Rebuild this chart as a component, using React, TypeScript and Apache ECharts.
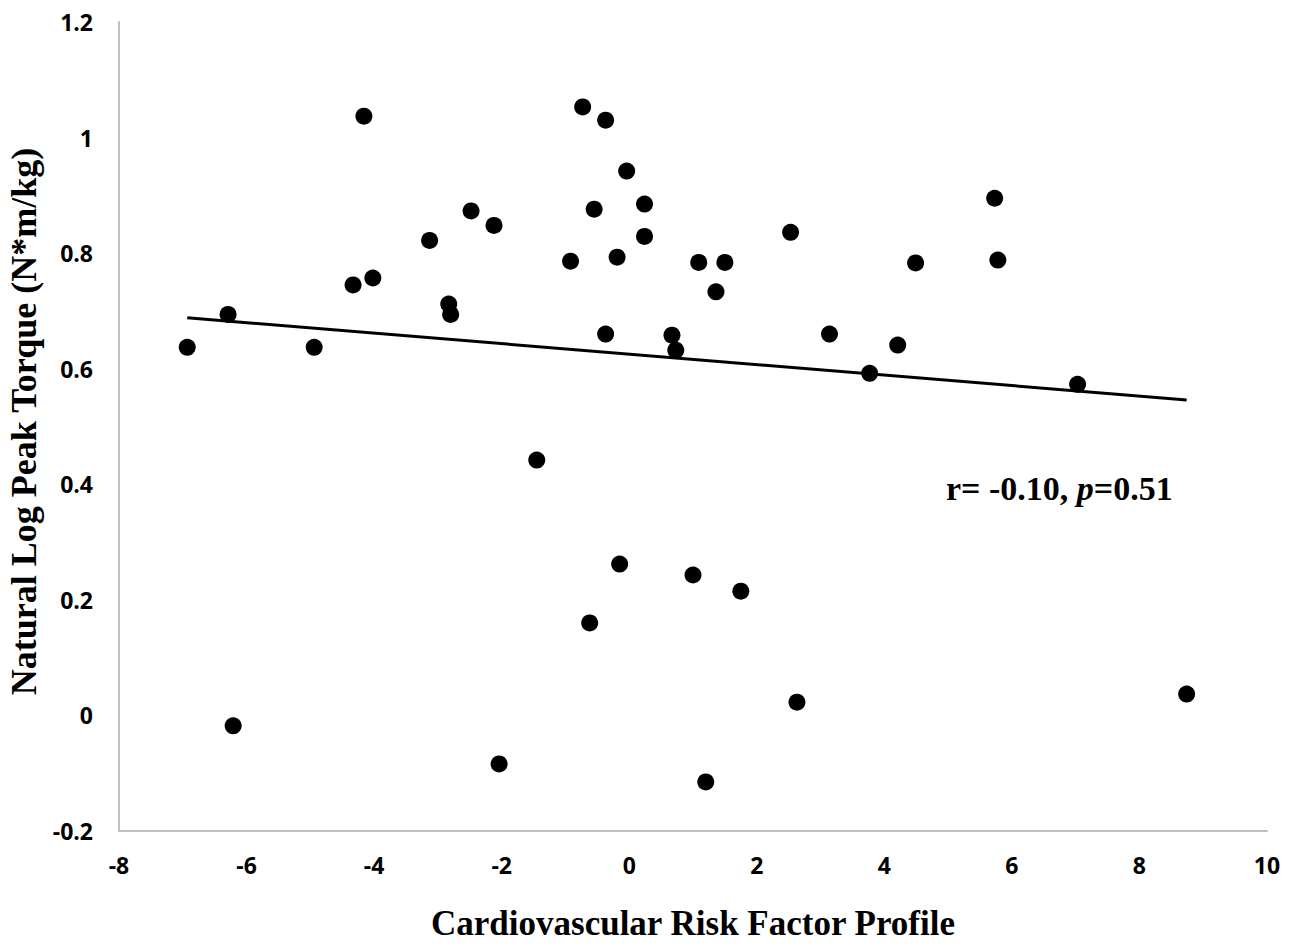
import React, { useEffect, useRef } from "react";
import * as echarts from "echarts";

const riskX = [-6.93, -6.29, -6.21, -4.94, -4.33, -4.02, -4.16, -3.13, -2.83, -2.8, -2.48, -2.12, -2.04, -1.45, -0.92, -0.73, -0.62, -0.55, -0.37, -0.37, -0.19, -0.15, -0.04, 0.24, 0.24, 0.67, 0.73, 1.0, 1.09, 1.2, 1.36, 1.5, 1.75, 2.53, 2.63, 3.14, 3.77, 4.21, 4.49, 5.73, 5.78, 7.03, 8.74];
const torqueY = [0.637, 0.694, -0.018, 0.637, 0.745, 0.757, 1.037, 0.822, 0.712, 0.694, 0.873, 0.848, -0.084, 0.442, 0.786, 1.053, 0.16, 0.876, 1.03, 0.66, 0.793, 0.262, 0.942, 0.885, 0.829, 0.658, 0.632, 0.243, 0.784, -0.115, 0.733, 0.784, 0.215, 0.836, 0.023, 0.66, 0.592, 0.641, 0.783, 0.895, 0.788, 0.573, 0.037];
const trendX = [-6.93, 8.74];
const trendY = [0.688, 0.546];
const xTicks = [-8, -6, -4, -2, 0, 2, 4, 6, 8, 10];
const yTicks = [-0.2, 0, 0.2, 0.4, 0.6, 0.8, 1, 1.2];

export default function App() {
  const ref = useRef<HTMLDivElement>(null);
  useEffect(() => {
    const chart = echarts.init(ref.current!, null, { renderer: "svg" });
    const tickFont = { fontFamily: "Open Sans", fontWeight: "bold" as const, fontSize: 23, color: "#000" };
    const nameFont = { fontFamily: "Liberation Serif", fontWeight: "bold" as const, fontSize: 35, color: "#000" };
    chart.setOption({
      animation: false,
      backgroundColor: "#fff",
      grid: { left: 119, right: 34, top: 22, bottom: 114, outerBoundsMode: "none", containLabel: false },
      xAxis: {
        type: "value",
        min: xTicks[0],
        max: xTicks[xTicks.length - 1],
        interval: 2,
        axisLine: { show: true, onZero: false, lineStyle: { color: "#bfbfbf", width: 2 } },
        axisTick: { show: false },
        splitLine: { show: false },
        axisLabel: { ...tickFont, margin: 22 },
        name: "Cardiovascular Risk Factor Profile",
        nameLocation: "middle",
        nameGap: 75,
        nameTextStyle: nameFont,
      },
      yAxis: {
        type: "value",
        min: yTicks[0],
        max: yTicks[yTicks.length - 1],
        interval: 0.2,
        axisLine: { show: true, onZero: false, lineStyle: { color: "#bfbfbf", width: 2 } },
        axisTick: { show: false },
        splitLine: { show: false },
        axisLabel: { ...tickFont, margin: 26, formatter: (v: number) => String(Math.round(v * 10) / 10) },
        name: "Natural Log Peak Torque (N*m/kg)",
        nameLocation: "middle",
        nameGap: 77,
        nameTextStyle: { ...nameFont, fontSize: 36, padding: [0, 0, 0, 10] },
      },
      series: [
        {
          type: "scatter",
          data: riskX.map((x, i) => [x, torqueY[i]]),
          symbol: "circle",
          symbolSize: 17,
          itemStyle: { color: "#000", opacity: 1 },
          z: 3,
        },
        {
          type: "line",
          data: trendX.map((x, i) => [x, trendY[i]]),
          symbol: "none",
          lineStyle: { color: "#000", width: 3 },
          z: 2,
        },
      ],
      graphic: [
        {
          type: "text",
          left: 946,
          top: 471,
          style: {
            text: "{a|r= -0.10, }{b|p}{a|=0.51}",
            rich: {
              a: { fontFamily: "Liberation Serif", fontWeight: "bold", fontSize: 34, fill: "#000" },
              b: { fontFamily: "Liberation Serif", fontWeight: "bold", fontStyle: "italic", fontSize: 34, fill: "#000" },
            },
          },
        },
      ],
    });
    return () => chart.dispose();
  }, []);
  return <div ref={ref} style={{ width: 1301, height: 945, position: "absolute", left: 0, top: 0 }} />;
}
